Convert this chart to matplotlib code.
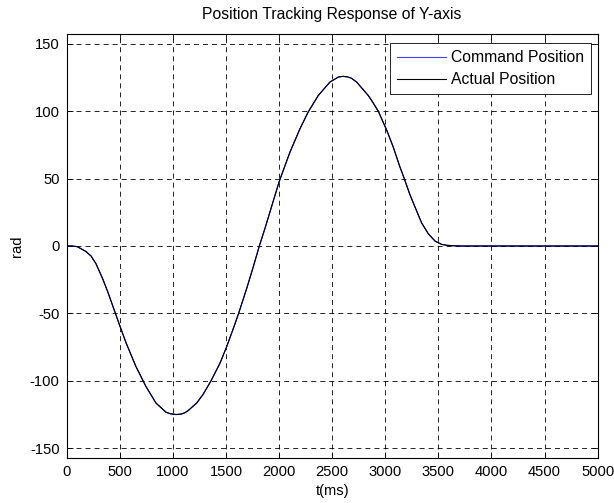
import matplotlib
matplotlib.use("Agg")
import matplotlib.pyplot as plt

plt.rcParams["font.family"] = ["Liberation Sans", "DejaVu Sans"]
plt.rcParams["lines.scale_dashes"] = False
plt.rcParams["axes.unicode_minus"] = False   # guion comun como en matlab

# valores (t en ms, posicion en rad)
t_ms = [0, 50, 100, 180, 230, 275, 340, 385, 450, 495, 560, 650, 745, 840,
        935, 975, 1030, 1075, 1110, 1145, 1225, 1285, 1359, 1445, 1505, 1570,
        1619, 1695, 1755, 1814, 1867, 1946, 2002, 2103, 2197, 2275, 2369,
        2479, 2558, 2600, 2640, 2680, 2730, 2840, 2887, 2934, 3013, 3075,
        3138, 3179, 3230, 3280, 3343, 3405, 3468, 3530, 3580, 3640, 3700,
        5000]
pos_cmd = [0, 0, -0.5, -4, -7.5, -13, -24.5, -33.6, -48, -58, -72, -89,
           -104, -116.4, -123.3, -124.4, -125, -124.7, -123.8, -122, -116.4,
           -110, -100, -86.7, -75, -61, -50, -31.5, -16, 0, 13, 33.5, 48,
           69.7, 87, 99.5, 111.6, 121.6, 125.3, 125.8, 125.5, 124.5, 121.6,
           111.6, 106, 100, 86, 73.4, 58.6, 50, 38.5, 28.9, 17, 9.1, 3.7,
           1.2, 0.5, 0.2, 0, 0]
# la real va casi encima de la comandada
pos_real = list(pos_cmd)

xticks = list(range(0, 5001, 500))
yticks = [-150, -100, -50, 0, 50, 100, 150]

fig = plt.figure(figsize=(6.14, 5.03), dpi=100)
ax = fig.add_axes([0.1086, 0.0901, 0.8648, 0.8417])

ax.plot(t_ms, pos_cmd, color="#0000ff", linewidth=0.8, label="Command Position")
ax.plot(t_ms, pos_real, color="black", linewidth=0.8, label="Actual Position")

ax.set_xlim(0, 5000)
ax.set_ylim(-157, 157)
ax.set_xticks(xticks)
ax.set_yticks(yticks)
ax.tick_params(direction="in", length=4, width=0.6, top=True, right=True,
               labelsize=10.6, pad=5)
ax.grid(True, color="black", linestyle=(0, (3.6, 2.9)), linewidth=0.6)
for s in ax.spines.values():
    s.set_linewidth(0.8)

ax.set_title("Position Tracking Response of Y-axis", fontsize=11.3, pad=11)
ax.set_xlabel("t(ms)", fontsize=10.6, labelpad=4)
ax.set_ylabel("rad", fontsize=10.6, labelpad=4)

leg = ax.legend(loc="upper right", bbox_to_anchor=(0.987, 0.979),
                fontsize=11.3, handlelength=3.1, handletextpad=0.3,
                borderpad=0.45, labelspacing=0.45, borderaxespad=0,
                fancybox=False, framealpha=1, edgecolor="black")
leg.get_frame().set_linewidth(0.6)
leg.get_lines()[0].set_color("#4040ff")

fig.savefig("out.png", dpi=100)
